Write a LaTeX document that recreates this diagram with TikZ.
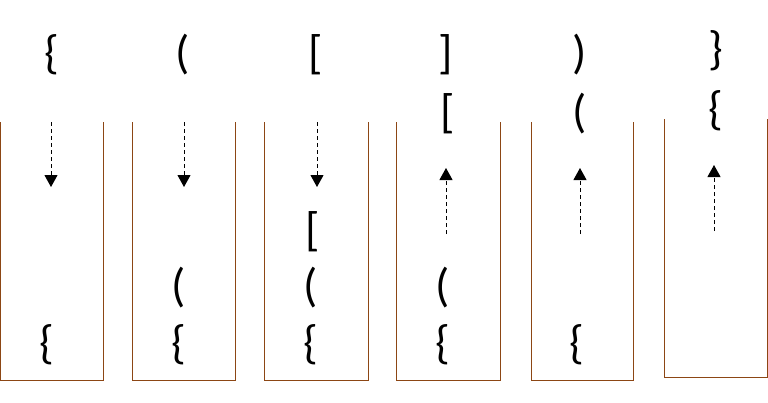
\documentclass[tikz,border=0pt]{standalone}
\usepackage{fontspec}
\setmainfont{Carlito}
\usetikzlibrary{arrows.meta}
\definecolor{stackbrown}{RGB}{140,70,20}
\tikzset{
        stackwall/.style={draw=stackbrown, line width=1pt},
        sym/.style={font=\fontsize{47}{50}\selectfont, inner sep=0pt, anchor=center},
        flow/.style={dash pattern=on 4pt off 3pt, line width=1pt, -{Triangle[length=12pt,width=13pt]}}
}
\begin{document}
\begin{tikzpicture}[x=1pt,y=-1pt]
        \useasboundingbox (0,0) rectangle (768,402);

        \draw[stackwall] (0,122) -- (0,380) -- (103,380) -- (103,122);
        \draw[stackwall] (132,122) -- (132,380) -- (235,380) -- (235,122);
        \draw[stackwall] (264,122) -- (264,380) -- (368,380) -- (368,122);
        \draw[stackwall] (396,122) -- (396,380) -- (500,380) -- (500,122);
        \draw[stackwall] (531,122) -- (531,380) -- (633,380) -- (633,122);
        \draw[stackwall] (664,119) -- (664,377) -- (767,377) -- (767,119);

        \node[sym] (in1) at (52,55) {\{};
        \node[sym] (in2) at (183,55) {(};
        \node[sym] (in3) at (316,55) {[};
        \node[sym] (in4) at (446,55) {]};
        \node[sym] (in5) at (580,55) {)};
        \node[sym] (in6) at (716,51) {\}};

        \node[sym] (out4) at (448,114) {[};
        \node[sym] (out5) at (580,114) {(};
        \node[sym] (out6) at (716,111) {\{};

        \node[sym] (s1a) at (47,345) {\{};
        \node[sym] (s2a) at (179,345) {\{};
        \node[sym] (s2b) at (179,288) {(};
        \node[sym] (s3a) at (311,345) {\{};
        \node[sym] (s3b) at (311,288) {(};
        \node[sym] (s3c) at (313,232) {[};
        \node[sym] (s4a) at (443,345) {\{};
        \node[sym] (s4b) at (443,288) {(};
        \node[sym] (s5a) at (577,345) {\{};

        \coordinate (push1) at (51,122);
        \coordinate (top1) at (51,187);
        \coordinate (push2) at (184,122);
        \coordinate (top2) at (184,187);
        \coordinate (push3) at (317,122);
        \coordinate (top3) at (317,187);
        \coordinate (pop4) at (446,234);
        \coordinate (lift4) at (446,168);
        \coordinate (pop5) at (580,234);
        \coordinate (lift5) at (580,168);
        \coordinate (pop6) at (714,231);
        \coordinate (lift6) at (714,165);

        \draw[flow] (push1) -- (top1);
        \draw[flow] (push2) -- (top2);
        \draw[flow] (push3) -- (top3);
        \draw[flow] (pop4) -- (lift4);
        \draw[flow] (pop5) -- (lift5);
        \draw[flow] (pop6) -- (lift6);

\end{tikzpicture}
\end{document}
